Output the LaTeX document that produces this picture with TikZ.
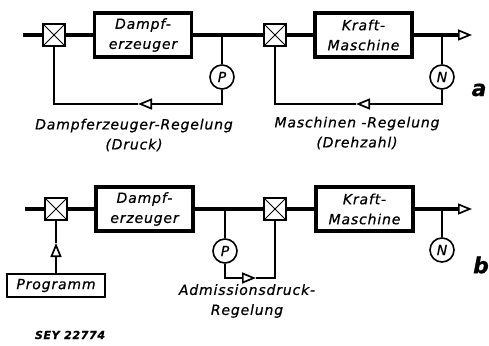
\documentclass[tikz,border=0pt]{standalone}
\usepackage{fontspec}
\newfontfamily\schrift{DejaVu Sans}[LetterSpace=6,FakeBold=0.6]
\newcommand{\beschr}{\schrift\itshape\fontsize{14}{20}\selectfont}
\usetikzlibrary{positioning,arrows.meta}

\tikzset{
  ventil/.style={draw,line width=1.6pt,minimum size=22pt,inner sep=0pt,
    path picture={\draw[line width=0.8pt]
      (path picture bounding box.north west) -- (path picture bounding box.south east)
      (path picture bounding box.north east) -- (path picture bounding box.south west);}},
  block/.style={draw,line width=3.2pt,minimum width=97pt,minimum height=44pt,
    align=center,inner sep=1pt,font=\beschr},
  geber/.style={circle,draw,line width=1.6pt,minimum size=24pt,inner sep=0pt,font=\beschr},
  leitung/.style={line width=3.6pt},
  regel/.style={line width=1.8pt},
  spitze/.style={-{Triangle[open,length=14pt,width=11pt,line width=1.7pt]}},
  beschriftung/.style={font=\beschr,align=center}
}

\begin{document}
\begin{tikzpicture}[x=1pt,y=-1pt]
  \useasboundingbox (0,0) rectangle (489,345);

  % --- a ---
  \coordinate (ein a) at (23,35);
  \node[ventil] (va1) at (54,35) {};
  \node[block] (dea) at (143,35) {Dampf-\\erzeuger};
  \node[ventil] (va2) at (275,35) {};
  \node[block] (kma) at (363.5,35) {Kraft-\\Maschine};
  \coordinate (aus a) at (472,35);
  \coordinate (tap p a) at (222,35);
  \coordinate (tap n a) at (442,35);
  \node[geber] (pa) at (222,77) {P};
  \node[geber] (na) at (442,77) {N};
  \coordinate (pfeil p a) at (138,104);
  \coordinate (pfeil n a) at (356,104);

  \draw[leitung] (ein a) -- (va1) -- (dea) -- (va2) -- (kma);
  \draw[leitung,spitze] (kma) -- (aus a);
  \draw[regel] (tap p a) -- (pa);
  \draw[regel] (tap n a) -- (na);
  \draw[regel,spitze] (pa) |- (pfeil p a);
  \draw[regel] (pfeil p a) -| (va1);
  \draw[regel,spitze] (na) |- (pfeil n a);
  \draw[regel] (pfeil n a) -| (va2);

  \node[beschriftung] (lab pa) at (134,135) {Dampferzeuger-Regelung\\(Druck)};
  \node[beschriftung] (lab na) at (357,133) {Maschinen -Regelung\\(Drehzahl)};
  \node[font=\schrift\bfseries\itshape\fontsize{22}{22}\selectfont] (a) at (479,90) {a};

  % --- b ---
  \coordinate (ein b) at (25,209);
  \node[ventil] (vb1) at (56,209) {};
  \node[block] (deb) at (144.5,209) {Dampf-\\erzeuger};
  \node[ventil] (vb2) at (275,209) {};
  \node[block] (kmb) at (364.5,209) {Kraft-\\Maschine};
  \coordinate (aus b) at (472,209);
  \coordinate (tap p b) at (225,209);
  \coordinate (tap n b) at (442,209);
  \node[geber] (pb) at (225,251) {P};
  \node[geber] (nb) at (442,250) {N};
  \coordinate (pfeil p b) at (256,278);
  \node[draw,line width=1.2pt,minimum width=98pt,minimum height=23pt,font=\beschr] (prog) at (56,285.5) {Programm};
  \coordinate (pfeil prog) at (56,243);

  \draw[leitung] (ein b) -- (vb1) -- (deb) -- (vb2) -- (kmb);
  \draw[leitung,spitze] (kmb) -- (aus b);
  \draw[regel] (tap p b) -- (pb);
  \draw[regel] (tap n b) -- (nb);
  \draw[regel,spitze] (pb) |- (pfeil p b);
  \draw[regel] (pfeil p b) -| (vb2);
  \draw[regel,spitze] (prog) -- (pfeil prog);
  \draw[regel] (pfeil prog) -- (vb1);

  \node[beschriftung] (lab pb) at (247,301) {Admissionsdruck-\\Regelung};
  \node[font=\schrift\bfseries\itshape\fontsize{22}{22}\selectfont] (b) at (481,265) {b};

  \node[font=\schrift\bfseries\itshape\fontsize{11}{11}\selectfont] (sey) at (70,335) {SEY 22774};
\end{tikzpicture}
\end{document}
